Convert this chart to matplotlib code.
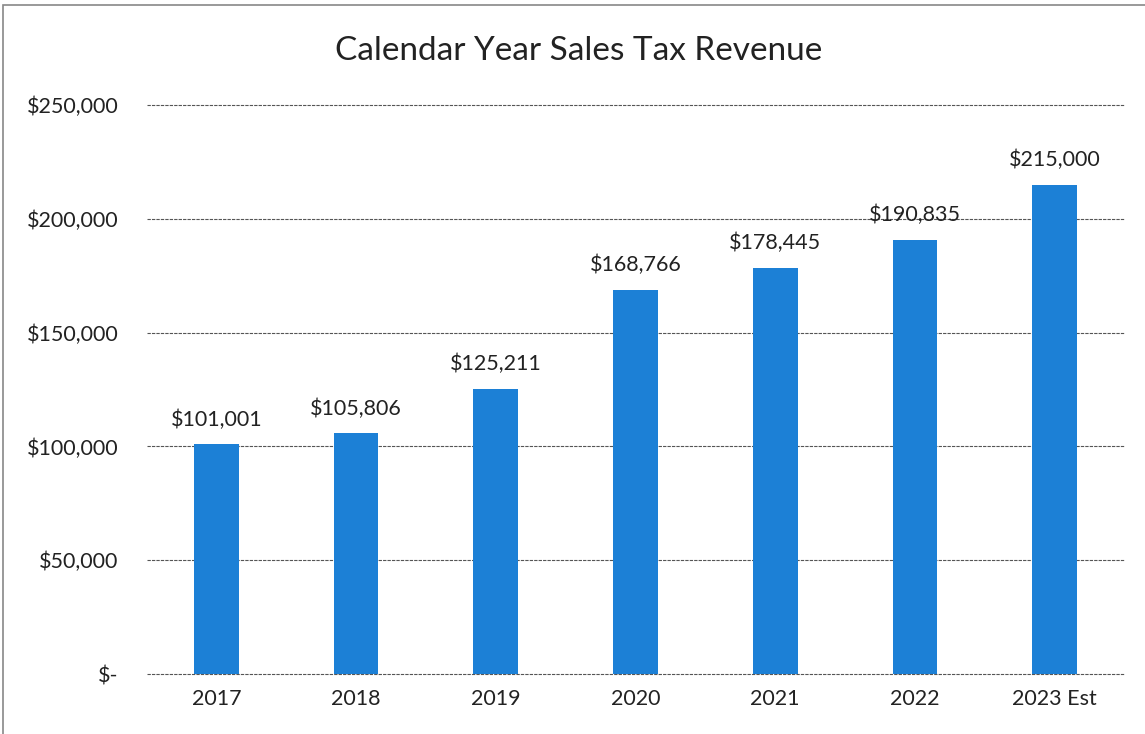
import matplotlib.pyplot as plt
from matplotlib.patches import Rectangle

plt.rcParams['font.family'] = ['Lato', 'DejaVu Sans']

# data
years = ['2017', '2018', '2019', '2020', '2021', '2022', '2023 Est']
revenue = [101001, 105806, 125211, 168766, 178445, 190835, 215000]
yticks = [0, 50000, 100000, 150000, 200000, 250000]

def money(v):
    return '$-' if v == 0 else '${:,.0f}'.format(v)

fig = plt.figure(figsize=(11.45, 7.34), dpi=100)
ax = fig.add_axes([0.128, 0.0817, 0.854, 0.775])

bars = ax.bar(range(len(years)), revenue, width=0.32, color='#1c80d6', zorder=3)

# data labels above bars
for b, v in zip(bars, revenue):
    ax.annotate(money(v), (b.get_x() + b.get_width() / 2, b.get_height()),
                xytext=(0, 10.5), textcoords='offset points',
                ha='center', va='bottom', fontsize=15.5, color='#222222', zorder=4)

ax.set_xlim(-0.5, len(years) - 0.5)
ax.set_ylim(0, 250000)
ax.set_yticks(yticks)
ax.set_yticklabels([money(t) for t in yticks])
ax.set_xticks(range(len(years)))
ax.set_xticklabels(years)
ax.tick_params(axis='y', length=0, pad=20, labelsize=15.5, labelcolor='#222222')
ax.tick_params(axis='x', length=0, pad=11, labelsize=15.5, labelcolor='#222222')

ax.grid(axis='y', color='#555555', linewidth=0.8, linestyle=(0, (3, 1)), zorder=0)
for gl in ax.get_ygridlines():
    gl.set_clip_on(False)
for s in ax.spines.values():
    s.set_visible(False)

fig.text(0.505, 0.93, 'Calendar Year Sales Tax Revenue', ha='center', va='center',
         fontsize=24, color='#222222')

# chart frame (left and top edge as in the scan)
fig.patches.append(Rectangle((0.003, -0.01), 1.1, 1.003, transform=fig.transFigure,
                             fill=False, edgecolor='#888888', linewidth=1.2))

fig.savefig('out.png', dpi=100, facecolor='white')
